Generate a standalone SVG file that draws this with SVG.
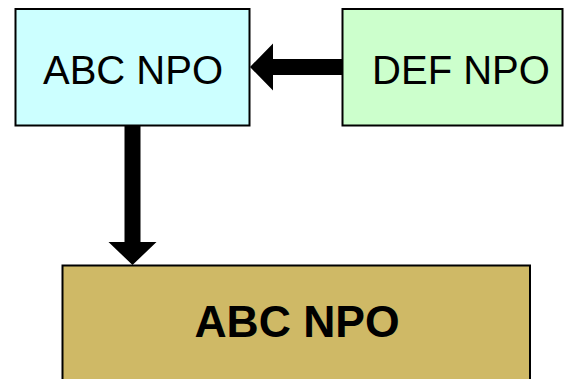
<svg xmlns="http://www.w3.org/2000/svg" width="564" height="379" viewBox="0 0 564 379">
  <style>
    .box { stroke: #000; stroke-width: 2; }
    .lbl { font-family: "Liberation Sans", Arial, sans-serif; fill: #000; }
    .arrow { fill: #000; stroke: none; }
  </style>
  <rect width="564" height="379" fill="#fff"/>
  <g id="abc-top">
    <rect class="box" x="15.5" y="9" width="234" height="116.5" fill="#CCFFFF"/>
    <text class="lbl" x="133" y="84" font-size="40" text-anchor="middle">ABC NPO</text>
  </g>
  <g id="def">
    <rect class="box" x="342.5" y="9" width="220" height="116.5" fill="#CCFFCC"/>
    <text class="lbl" x="461" y="84" font-size="40" text-anchor="middle">DEF NPO</text>
  </g>
  <g id="abc-bottom">
    <rect class="box" x="62.5" y="265.5" width="467.5" height="130" fill="#CFB966"/>
    <text class="lbl" x="297" y="337" font-size="44.5" font-weight="bold" text-anchor="middle">ABC NPO</text>
  </g>
  <g id="connectors">
    <!-- DEF NPO to upper ABC NPO -->
    <polygon class="arrow" points="342,59 273,59 273,43.5 250,67 273,90.5 273,75 342,75"/>
    <!-- upper ABC NPO to lower ABC NPO -->
    <polygon class="arrow" points="124.5,126 140.5,126 140.5,242 156.5,242 132.5,265 108.5,242 124.5,242"/>
  </g>
</svg>
